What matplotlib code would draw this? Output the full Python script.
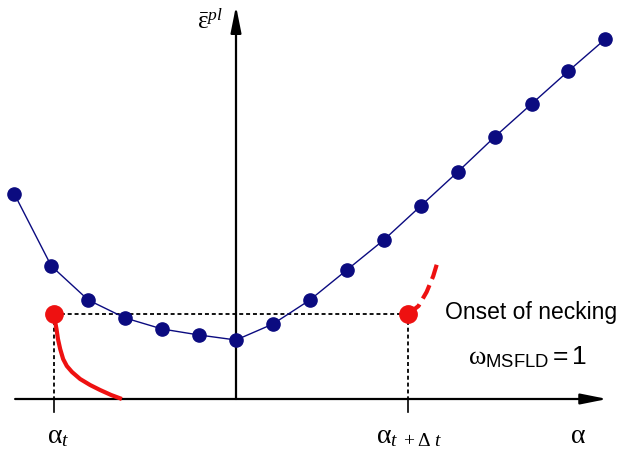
"""
Sketch of the MSFLD necking criterion: equivalent plastic strain vs. alpha.
Saves out.png
"""

import matplotlib
import matplotlib.pyplot as plt
from matplotlib.patches import FancyArrowPatch

matplotlib.use("Agg")

plt.rcParams["mathtext.fontset"] = "custom"
plt.rcParams["mathtext.rm"] = "Liberation Serif"
plt.rcParams["mathtext.it"] = "Liberation Serif:italic"
plt.rcParams["mathtext.sf"] = "Liberation Sans"

NAVY = "#0b0b80"
RED = "#ee1111"

# forming limit curve points
alpha = [-6, -5, -4, -3, -2, -1, 0, 1, 2, 3, 4, 5, 6, 7, 8, 9, 10]
eps = [2.05, 1.33, 0.99, 0.81, 0.70, 0.64, 0.59, 0.75, 0.99,
       1.29, 1.59, 1.93, 2.27, 2.62, 2.95, 3.28, 3.60]

# strain path states
alpha_t = -4.93
alpha_tdt = 4.66
eps_neck = 0.85

# path before necking (solid) and after (dashed)
path_a = [-4.93, -4.90, -4.86, -4.82, -4.76, -4.68, -4.58, -4.44,
          -4.22, -3.95, -3.68, -3.38, -3.09]
path_e = [0.84, 0.78, 0.70, 0.60, 0.50, 0.40, 0.33, 0.27,
          0.20, 0.14, 0.09, 0.04, 0.0]
post_a = [4.66, 4.94, 5.16, 5.34, 5.48]
post_e = [0.85, 0.93, 1.07, 1.23, 1.40]


def axis_arrow(ax, start, end):
    ax.add_patch(FancyArrowPatch(
        start, end, arrowstyle="-|>,head_length=16,head_width=3.2",
        mutation_scale=1, color="black", lw=1.6, shrinkA=0, shrinkB=0))


def main():
    fig = plt.figure(figsize=(6.28, 4.56), dpi=100, facecolor="white")
    ax = fig.add_axes([0, 0, 1, 1])
    ax.set_xlim(-6.389, 10.612)
    ax.set_ylim(-0.56, 4.0)
    ax.axis("off")

    axis_arrow(ax, (-5.98, 0), (10.05, 0))
    axis_arrow(ax, (0, 0), (0, 3.93))

    # dashed construction lines and ticks
    ax.plot([alpha_t, alpha_tdt], [eps_neck, eps_neck], color="black",
            lw=1.3, linestyle=(0, (2.2, 1.6)))
    for a in (alpha_t, alpha_tdt):
        ax.plot([a, a], [eps_neck, 0], color="black", lw=1.3,
                linestyle=(0, (2.2, 1.6)))
        ax.plot([a, a], [0, -0.13], color="black", lw=1.2)

    ax.plot(alpha, eps, color=NAVY, lw=1.0, marker="o", markersize=9.5,
            markerfacecolor=NAVY, markeredgecolor=NAVY, zorder=4)

    ax.plot(path_a, path_e, color=RED, lw=3, solid_capstyle="butt",
            solid_joinstyle="round", zorder=5)
    ax.plot(post_a, post_e, color=RED, lw=3, linestyle=(0, (3.6, 1.6)),
            zorder=5)
    ax.plot([alpha_t, alpha_tdt], [eps_neck, eps_neck], "o", color=RED,
            markersize=12.5, zorder=6)

    ax.text(-0.36, 3.78, r"$\bar{\mathrm{\varepsilon}}^{pl}$", fontsize=18,
            ha="right", va="center")
    ax.text(alpha_t - 0.2, -0.35, r"$\mathrm{\alpha}_{t}$", fontsize=20,
            ha="left", va="center")
    ax.text(alpha_tdt - 0.88, -0.35, r"$\mathrm{\alpha}_{t\ +\mathrm{\Delta}\ t}$",
            fontsize=20, ha="left", va="center")
    ax.text(9.25, -0.35, r"$\mathrm{\alpha}$", fontsize=20, ha="center",
            va="center")
    ax.text(8.0, 0.88, "Onset of necking", fontsize=16.5,
            family="Liberation Sans", ha="center", va="center")
    ax.text(7.9, 0.43, r"$\mathrm{\omega}_{\mathsf{MSFLD}}\mathsf{=1}$",
            fontsize=19, ha="center", va="center")

    fig.savefig("out.png", dpi=100, facecolor="white")
    plt.close(fig)


if __name__ == "__main__":
    main()
